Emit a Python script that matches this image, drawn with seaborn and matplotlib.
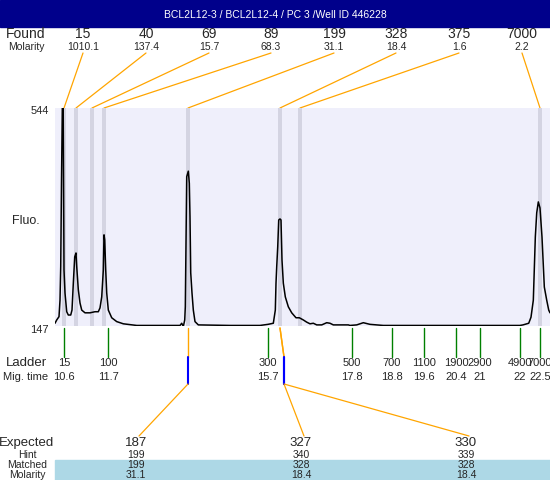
import seaborn as sns
import matplotlib.pyplot as plt
from matplotlib.patches import Rectangle

title = "BCL2L12-3 / BCL2L12-4 / PC 3 /Well ID 446228"

# peaks found in the sample
found_size = [15, 40, 69, 89, 199, 328, 375, 7000]
found_molarity = ["1010.1", "137.4", "15.7", "68.3", "31.1", "18.4", "1.6", "2.2"]
found_time = [10.6, 10.9, 11.3, 11.6, 13.7, 16.0, 16.5, 22.5]

# ladder
ladder_size = [15, 100, 300, 500, 700, 1100, 1900, 2900, 4900, 7000]
ladder_time = [10.6, 11.7, 15.7, 17.8, 18.8, 19.6, 20.4, 21, 22, 22.5]

# expected fragments
expected_size = [187, 327, 330]
hint_size = [199, 340, 339]
matched_size = [199, 328, 328]
matched_molarity = ["31.1", "18.4", "18.4"]
matched_time = [13.7, 16.0, 16.0]
hint_time = [13.7, 16.1, 16.1]

# electropherogram (mig. time, fluorescence)
trace_time = [10.375, 10.418, 10.475, 10.5, 10.518, 10.538, 10.558, 10.58, 10.6, 10.625,
              10.668, 10.708, 10.768, 10.8, 10.833, 10.868, 10.9, 10.918, 10.958, 11.0,
              11.043, 11.125, 11.25, 11.375, 11.458, 11.5, 11.543, 11.583, 11.6, 11.618,
              11.643, 11.668, 11.708, 11.793, 11.918, 12.083, 12.418, 13.5, 13.543, 13.583,
              13.618, 13.633, 13.65, 13.668, 13.708, 13.733, 13.75, 13.768, 13.8, 13.833,
              13.875, 13.958, 14.75, 15.5, 15.7, 15.833, 15.883, 15.9, 15.918, 15.943,
              15.968, 16.0, 16.025, 16.05, 16.083, 16.133, 16.208, 16.293, 16.4, 16.483,
              16.583, 16.668, 16.75, 16.833, 16.918, 17.043, 17.168, 17.25, 17.333, 17.708,
              17.75, 17.918, 18.083, 18.25, 18.583, 21.25, 22.0, 22.075, 22.218, 22.275,
              22.333, 22.383, 22.418, 22.458, 22.5, 22.55, 22.608, 22.668, 22.718, 22.75]
trace_fluo = [152, 158, 164, 194, 255, 413, 544, 544, 249, 207,
              173, 167, 167, 176, 225, 273, 280, 255, 213, 189,
              176, 171, 171, 173, 173, 180, 200, 249, 313, 304,
              249, 207, 176, 162, 155, 151, 148, 148, 152, 146,
              158, 182, 298, 419, 429, 407, 346, 244, 207, 176,
              155, 149, 148, 148, 150, 152, 176, 225, 255, 291,
              340, 342, 340, 267, 225, 200, 182, 171, 162, 162,
              158, 154, 151, 152, 149, 149, 153, 152, 149, 149,
              148, 149, 153, 150, 148, 148, 148, 149, 152, 163,
              194, 309, 353, 373, 362, 309, 218, 194, 176, 171]

found_x = [83, 146, 209, 271, 334, 396, 459, 522]
expected_x = [136, 301, 466]

sns.set_theme(style="white")
plt.rcParams['font.family'] = ['Liberation Sans', 'DejaVu Sans']

fig = plt.figure(figsize=(5.5, 4.8), dpi=100)

# page axes in pixel units
page = fig.add_axes([0, 0, 1, 1])
page.set_xlim(0, 550)
page.set_ylim(480, 0)
page.axis("off")

ax = fig.add_axes([55 / 550, 1 - 326 / 480, 495 / 550, 218 / 480])
ax.set_facecolor("#efeffb")
ax.set_xlim(10.375, 22.75)
ax.set_ylim(147, 544)
ax.set_xticks([])
ax.set_yticks([])
for s in ax.spines.values():
    s.set_visible(False)

for t in found_time:
    ax.axvspan(t - 0.05, t + 0.05, color="#d4d4e2", lw=0, zorder=1)

sns.lineplot(x=trace_time, y=trace_fluo, ax=ax, color="black", lw=1.1,
             estimator=None, zorder=3)


def to_page(t, v):
    dx, dy = ax.transData.transform((t, v))
    return dx, 480 - dy


# title bar
page.add_patch(Rectangle((0, 0), 550, 27, color="#00008b", zorder=0))
page.text(275, 15, title, color="white", ha="center", va="center", fontsize=7.5)

# found row
page.text(26, 34.5, "Found", ha="center", va="center", fontsize=10)
page.text(26, 46.5, "Molarity", ha="center", va="center", fontsize=7.5)
for i in range(len(found_size)):
    page.text(found_x[i], 34.5, str(found_size[i]), ha="center", va="center", fontsize=10)
    page.text(found_x[i], 46.5, found_molarity[i], ha="center", va="center", fontsize=7.5)
    bx, by = to_page(found_time[i], 544)
    page.plot([found_x[i], bx], [53, by], color="orange", lw=0.9)

# y labels
page.text(49, 111, "544", ha="right", va="center", fontsize=8)
page.text(49, 330, "147", ha="right", va="center", fontsize=8)
page.text(26, 221, "Fluo.", ha="center", va="center", fontsize=9)

# ladder
page.text(26, 363.5, "Ladder", ha="center", va="center", fontsize=9.5)
page.text(26, 377, "Mig. time", ha="center", va="center", fontsize=8)
for i in range(len(ladder_size)):
    lx, _ = to_page(ladder_time[i], 147)
    page.plot([lx, lx], [328, 357], color="#008000", lw=1)
    page.text(lx, 363.5, str(ladder_size[i]), ha="center", va="center", fontsize=8)
    page.text(lx, 377, f"{ladder_time[i]:g}", ha="center", va="center", fontsize=8)

# expected / matched
page.add_patch(Rectangle((55, 460), 495, 20, color="#add8e6", zorder=0))
page.text(27, 443, "Expected", ha="center", va="center", fontsize=9.5)
page.text(27, 455, "Hint", ha="center", va="center", fontsize=7.5)
page.text(27, 465, "Matched", ha="center", va="center", fontsize=7.5)
page.text(27, 474.5, "Molarity", ha="center", va="center", fontsize=7.5)
for i in range(len(expected_size)):
    mx, _ = to_page(matched_time[i], 147)
    hx, _ = to_page(hint_time[i], 147)
    page.plot([mx, hx], [328, 357], color="orange", lw=1)
    page.plot([hx, hx], [357, 384], color="blue", lw=1.5)
    page.plot([hx, expected_x[i] + 3], [384, 436], color="orange", lw=0.9)
    page.text(expected_x[i], 443, str(expected_size[i]), ha="center", va="center", fontsize=9.5)
    page.text(expected_x[i], 455, str(hint_size[i]), ha="center", va="center", fontsize=7.5)
    page.text(expected_x[i], 465, str(matched_size[i]), ha="center", va="center", fontsize=7.5)
    page.text(expected_x[i], 474.5, matched_molarity[i], ha="center", va="center", fontsize=7.5)

fig.savefig("out.png", dpi=100)
plt.close()
